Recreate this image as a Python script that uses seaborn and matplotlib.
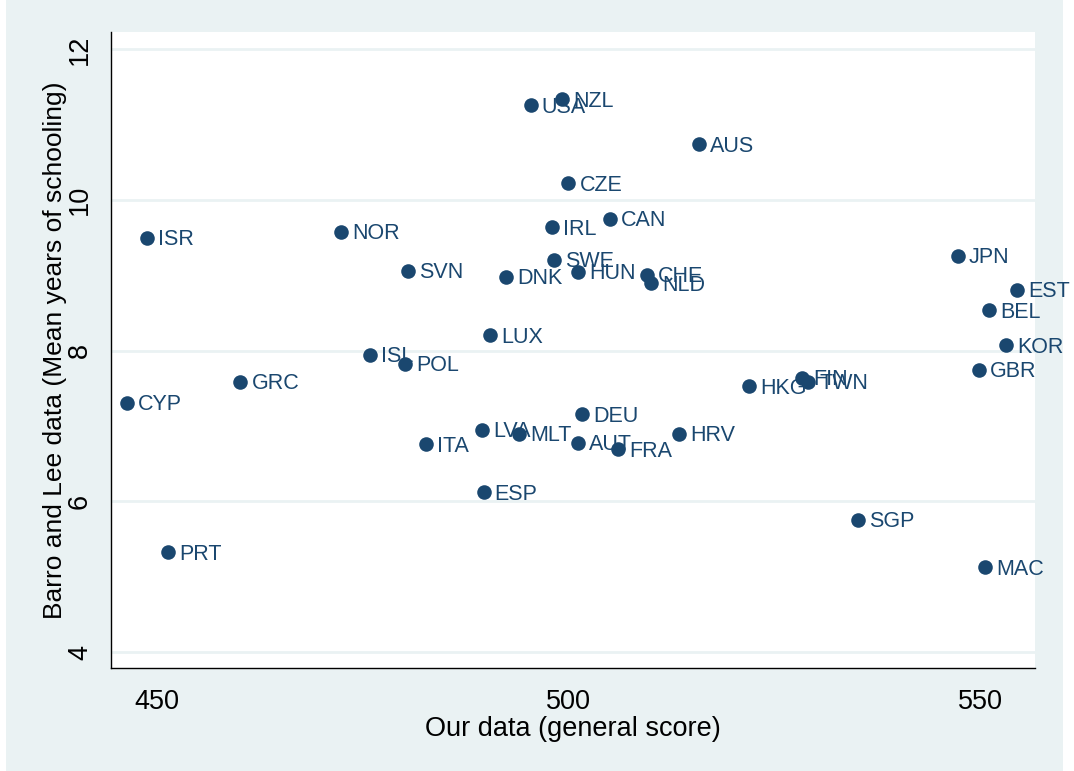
import pandas as pd
import matplotlib.pyplot as plt
import seaborn as sns
from matplotlib.patches import Rectangle

countries = ["CYP", "ISR", "PRT", "GRC", "NOR", "ISL", "SVN", "POL", "ITA", "LVA",
             "ESP", "MLT", "DEU", "AUT", "FRA", "HRV", "LUX", "DNK", "USA", "NZL",
             "CZE", "IRL", "CAN", "SWE", "HUN", "CHE", "NLD", "AUS", "HKG", "FIN",
             "TWN", "SGP", "JPN", "EST", "BEL", "KOR", "GBR", "MAC"]
general_score = [446.4, 448.9, 451.4, 460.2, 472.4, 475.9, 480.5, 480.2, 482.7, 489.5,
                 489.7, 494.0, 501.6, 501.1, 506.0, 513.4, 490.5, 492.4, 495.4, 499.2,
                 500.0, 498.0, 505.0, 498.2, 501.2, 509.5, 510.0, 515.8, 521.9, 528.3,
                 529.1, 535.1, 547.2, 554.4, 551.0, 553.1, 549.8, 550.5]
schooling = [7.31, 9.50, 5.33, 7.59, 9.58, 7.95, 9.06, 7.83, 6.76, 6.95,
             6.12, 6.90, 7.16, 6.78, 6.69, 6.90, 8.21, 8.98, 11.26, 11.34,
             10.22, 9.64, 9.75, 9.21, 9.05, 9.01, 8.90, 10.74, 7.53, 7.64,
             7.59, 5.76, 9.26, 8.81, 8.54, 8.07, 7.75, 5.13]

df = pd.DataFrame({"country": countries, "score": general_score, "school": schooling})

navy = "#1a476f"
bg = "#eaf2f3"

sns.set_style("white")
plt.rcParams["font.family"] = ["Liberation Sans", "DejaVu Sans"]
plt.rcParams["text.color"] = "black"
plt.rcParams["axes.labelcolor"] = "black"
plt.rcParams["xtick.color"] = "black"
plt.rcParams["ytick.color"] = "black"

fig = plt.figure(figsize=(10.74, 7.71), dpi=100)
fig.patches.append(Rectangle((6 / 1074, 0), 1057 / 1074, 1, transform=fig.transFigure,
                             facecolor=bg, edgecolor="none", zorder=-1))
ax = fig.add_axes([0.1034, 0.1336, 0.8603, 0.8249])
ax.set_facecolor("white")

for yv in [4, 6, 8, 10, 12]:
    ax.axhline(yv, color=bg, lw=2, zorder=0)

sns.scatterplot(data=df, x="score", y="school", ax=ax, color=navy, s=110,
                edgecolor=navy, linewidth=0, zorder=3)
for c, xv, yv in zip(countries, general_score, schooling):
    ax.annotate(c, (xv, yv), xytext=(8, -1.5), textcoords="offset points",
                va="center", ha="left", fontsize=15.5, color=navy, zorder=4)

ax.set_xlim(444.5, 556.6)
ax.set_ylim(3.79, 12.23)
ax.set_xticks([450, 500, 550])
ax.set_yticks([4, 6, 8, 10, 12])
ax.tick_params(axis="both", direction="out", length=9, width=1, color="black",
               labelcolor="black", labelsize=19.5, pad=6)
ax.tick_params(axis="y", pad=4)
plt.setp(ax.get_yticklabels(), rotation=90, va="center")
for side in ["top", "right"]:
    ax.spines[side].set_visible(False)
for side in ["left", "bottom"]:
    ax.spines[side].set_color("black")
    ax.spines[side].set_linewidth(1)

ax.set_xlabel("Our data (general score)", fontsize=19.5, labelpad=1, color="black")
ax.set_ylabel("Barro and Lee data (Mean years of schooling)", fontsize=19,
              labelpad=0, color="black")

fig.savefig("out.png", dpi=100)
